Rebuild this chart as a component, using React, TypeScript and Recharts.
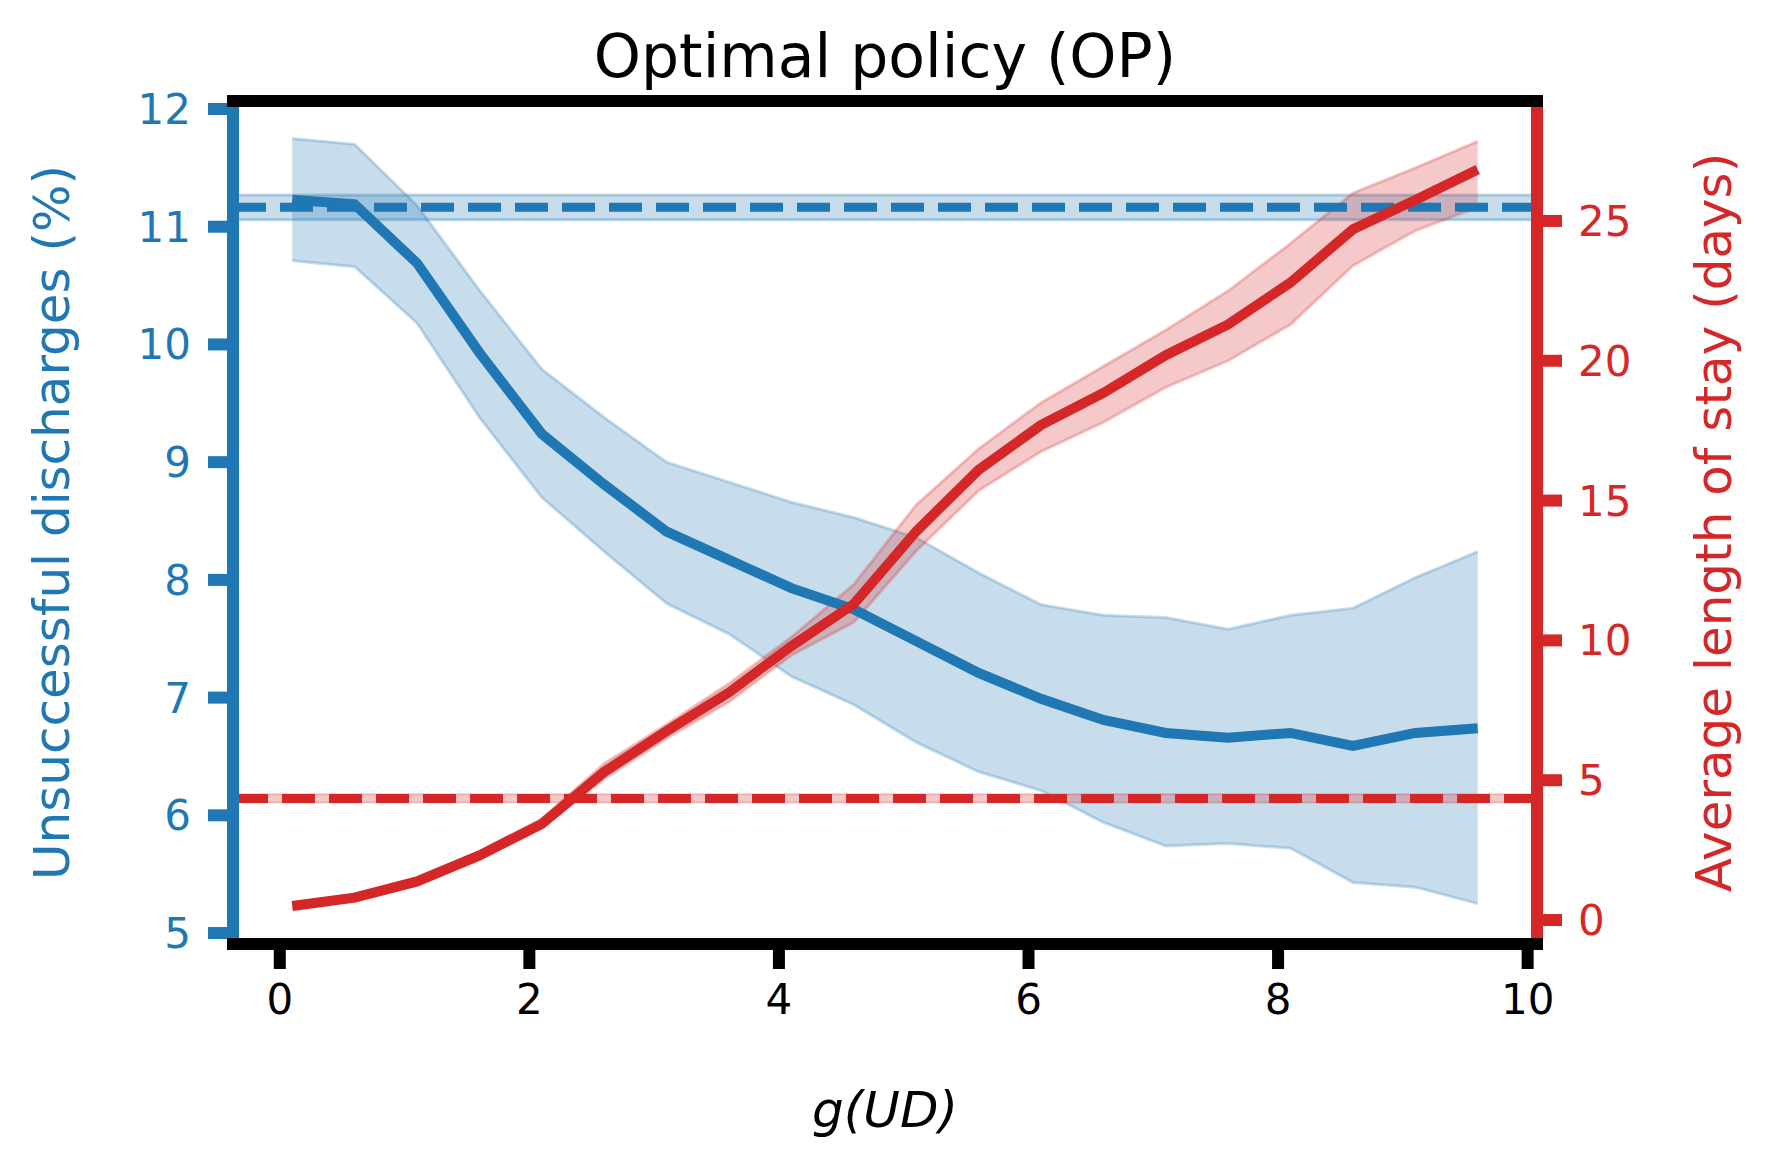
import React from 'react';
import {
  ComposedChart,
  Line,
  Area,
  XAxis,
  YAxis,
  ReferenceLine,
  ReferenceArea,
} from 'recharts';

const FONT = '"DejaVu Sans", "Liberation Sans", sans-serif';
const BLUE = '#1f77b4';
const RED = '#d62728';

// g(UD) values
const xValues = [0.1, 0.6, 1.1, 1.6, 2.1, 2.6, 3.1, 3.6, 4.1, 4.6, 5.1, 5.6, 6.1, 6.6, 7.1, 7.6, 8.1, 8.6, 9.1, 9.6];

// Unsuccessful discharges (%)
const udMean = [11.23, 11.19, 10.69, 9.93, 9.24, 8.81, 8.41, 8.17, 7.93, 7.75, 7.48, 7.21, 6.99, 6.81, 6.7, 6.66, 6.7, 6.59, 6.7, 6.74];
const udHigh = [11.75, 11.7, 11.18, 10.46, 9.79, 9.38, 9.0, 8.83, 8.66, 8.53, 8.36, 8.06, 7.79, 7.7, 7.68, 7.58, 7.7, 7.76, 8.02, 8.24];
const udLow = [10.71, 10.66, 10.18, 9.38, 8.7, 8.24, 7.8, 7.54, 7.18, 6.94, 6.62, 6.37, 6.21, 5.94, 5.74, 5.76, 5.72, 5.43, 5.39, 5.25];

// Average length of stay (days)
const losMean = [0.5, 0.8, 1.38, 2.31, 3.44, 5.3, 6.76, 8.14, 9.8, 11.3, 13.9, 16.1, 17.7, 18.85, 20.2, 21.3, 22.8, 24.7, 25.75, 26.84];
const losHigh = [0.62, 0.93, 1.5, 2.45, 3.62, 5.6, 7.0, 8.46, 10.12, 12.0, 14.85, 16.85, 18.5, 19.8, 21.1, 22.5, 24.2, 26.0, 26.9, 27.85];
const losLow = [0.4, 0.68, 1.25, 2.18, 3.28, 5.05, 6.5, 7.8, 9.47, 10.65, 13.2, 15.35, 16.75, 17.8, 19.05, 20.0, 21.3, 23.4, 24.65, 25.5];

// Reference (baseline) policy
const udBaseline = 11.165;
const udBaselineBand = [11.06, 11.27];
const losBaseline = 4.35;
const losBaselineBand = [4.2, 4.5];

// Axes
const xDomain = [-0.375, 10.075];
const xTicks = [0, 2, 4, 6, 8, 10];
const leftDomain = [4.907, 12.068];
const leftTicks = [5, 6, 7, 8, 9, 10, 11, 12];
const rightDomain = [-0.857, 29.29];
const rightTicks = [0, 5, 10, 15, 20, 25];

const title = 'Optimal policy (OP)';
const xLabel = 'g(UD)';
const leftLabel = 'Unsuccessful discharges (%)';
const rightLabel = 'Average length of stay (days)';

const rows = xValues.map((x, i) => ({
  x,
  udMean: udMean[i],
  udBand: [udLow[i], udHigh[i]],
  losMean: losMean[i],
  losBand: [losLow[i], losHigh[i]],
}));

const SPINE = 12;
const TICK_FONT = 42;

const TitleLabel = (props: any) => {
  const vb = props.viewBox || { x: 233, y: 0, width: 1304, height: 101 };
  return (
    <text x={vb.x + vb.width / 2} y={vb.y + vb.height - 24} textAnchor="middle" fontSize={60} fontFamily={FONT} fill="#000">
      {title}
    </text>
  );
};

const XLabel = (props: any) => {
  const vb = props.viewBox || { x: 233, y: 944, width: 1304, height: 226 };
  return (
    <text x={vb.x + vb.width / 2} y={vb.y + 183} textAnchor="middle" fontSize={50} fontStyle="italic" fontFamily={FONT} fill="#000">
      {xLabel}
    </text>
  );
};

const LeftLabel = (props: any) => {
  const vb = props.viewBox || { x: 0, y: 101, width: 233, height: 843 };
  const cx = vb.x + 69;
  const cy = vb.y + vb.height / 2;
  return (
    <text x={cx} y={cy} transform={`rotate(-90 ${cx} ${cy})`} textAnchor="middle" fontSize={50} fontFamily={FONT} fill={BLUE}>
      {leftLabel}
    </text>
  );
};

const RightLabel = (props: any) => {
  const vb = props.viewBox || { x: 1537, y: 101, width: 233, height: 843 };
  const cx = vb.x + 194;
  const cy = vb.y + vb.height / 2;
  return (
    <text x={cx} y={cy} transform={`rotate(-90 ${cx} ${cy})`} textAnchor="middle" fontSize={50} fontFamily={FONT} fill={RED}>
      {rightLabel}
    </text>
  );
};

export default function App() {
  return (
    <div style={{ position: 'absolute', left: 0, top: 0, width: 1770, height: 1170, background: '#fff' }}>
      <ComposedChart width={1770} height={1170} data={rows} margin={{ top: 0, right: 0, bottom: 0, left: 0 }}>
        <ReferenceArea
          xAxisId="bottom"
          yAxisId="left"
          y1={udBaselineBand[0]}
          y2={udBaselineBand[1]}
          fill={BLUE}
          fillOpacity={0.25}
          stroke={BLUE}
          strokeOpacity={0.3}
          strokeWidth={3}
          ifOverflow="visible"
        />
        <Area
          xAxisId="bottom"
          yAxisId="left"
          type="linear"
          dataKey="udBand"
          fill={BLUE}
          fillOpacity={0.25}
          stroke={BLUE}
          strokeOpacity={0.25}
          strokeWidth={3}
          dot={false}
          activeDot={false}
          isAnimationActive={false}
        />
        <ReferenceLine
          xAxisId="bottom"
          yAxisId="left"
          y={udBaseline}
          stroke={BLUE}
          strokeWidth={9}
          strokeDasharray="33 14"
          ifOverflow="visible"
        />
        <Line
          xAxisId="bottom"
          yAxisId="left"
          type="linear"
          dataKey="udMean"
          stroke={BLUE}
          strokeWidth={10}
          dot={false}
          activeDot={false}
          isAnimationActive={false}
        />
        <ReferenceArea
          xAxisId="bottom"
          yAxisId="right"
          y1={losBaselineBand[0]}
          y2={losBaselineBand[1]}
          fill={RED}
          fillOpacity={0.25}
          stroke={RED}
          strokeOpacity={0.25}
          strokeWidth={2}
          ifOverflow="visible"
        />
        <Area
          xAxisId="bottom"
          yAxisId="right"
          type="linear"
          dataKey="losBand"
          fill={RED}
          fillOpacity={0.25}
          stroke={RED}
          strokeOpacity={0.25}
          strokeWidth={3}
          dot={false}
          activeDot={false}
          isAnimationActive={false}
        />
        <ReferenceLine
          xAxisId="bottom"
          yAxisId="right"
          y={losBaseline}
          stroke={RED}
          strokeWidth={9}
          strokeDasharray="33 14"
          ifOverflow="visible"
        />
        <Line
          xAxisId="bottom"
          yAxisId="right"
          type="linear"
          dataKey="losMean"
          stroke={RED}
          strokeWidth={10}
          dot={false}
          activeDot={false}
          isAnimationActive={false}
        />
        <YAxis
          yAxisId="left"
          orientation="left"
          type="number"
          width={233}
          domain={leftDomain}
          ticks={leftTicks}
          allowDataOverflow
          interval={0}
          axisLine={{ stroke: BLUE, strokeWidth: SPINE, strokeLinecap: 'square' }}
          tickLine={{ stroke: BLUE, strokeWidth: SPINE }}
          tickSize={25}
          tickMargin={17}
          tick={{ fill: BLUE, fontSize: TICK_FONT, fontFamily: FONT }}
          label={LeftLabel}
        />
        <YAxis
          yAxisId="right"
          orientation="right"
          type="number"
          width={233}
          domain={rightDomain}
          ticks={rightTicks}
          allowDataOverflow
          interval={0}
          axisLine={{ stroke: RED, strokeWidth: SPINE, strokeLinecap: 'square' }}
          tickLine={{ stroke: RED, strokeWidth: SPINE }}
          tickSize={25}
          tickMargin={16}
          tick={{ fill: RED, fontSize: TICK_FONT, fontFamily: FONT }}
          label={RightLabel}
        />
        <XAxis
          xAxisId="top"
          orientation="top"
          dataKey="x"
          type="number"
          height={101}
          domain={xDomain}
          allowDataOverflow
          tick={false}
          tickLine={false}
          axisLine={{ stroke: '#000', strokeWidth: SPINE, strokeLinecap: 'square' }}
          label={TitleLabel}
        />
        <XAxis
          xAxisId="bottom"
          orientation="bottom"
          dataKey="x"
          type="number"
          height={226}
          domain={xDomain}
          ticks={xTicks}
          allowDataOverflow
          interval={0}
          axisLine={{ stroke: '#000', strokeWidth: SPINE, strokeLinecap: 'square' }}
          tickLine={{ stroke: '#000', strokeWidth: SPINE }}
          tickSize={25}
          tickMargin={15}
          tick={{ fill: '#000', fontSize: TICK_FONT, fontFamily: FONT }}
          label={XLabel}
        />
      </ComposedChart>
    </div>
  );
}
